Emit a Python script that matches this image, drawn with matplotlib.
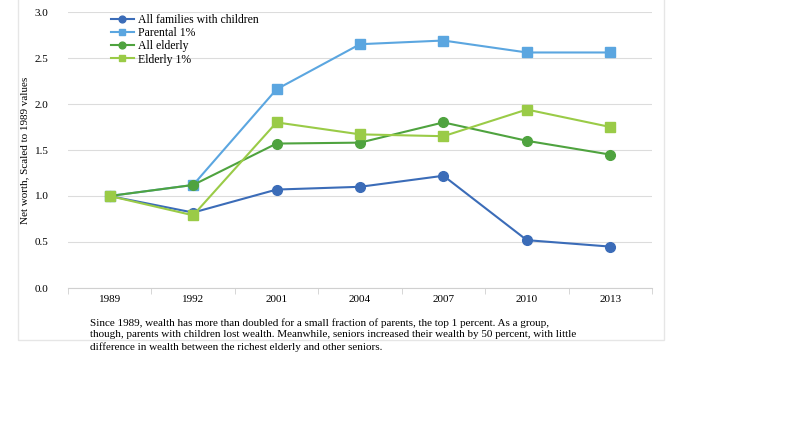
import matplotlib
matplotlib.use("Agg")
import matplotlib.pyplot as plt
from matplotlib.patches import Rectangle

years = ["1989", "1992", "2001", "2004", "2007", "2010", "2013"]
all_families = [1.0, 0.82, 1.07, 1.10, 1.22, 0.52, 0.45]
parental_1 = [1.0, 1.12, 2.16, 2.65, 2.69, 2.56, 2.56]
all_elderly = [1.0, 1.12, 1.57, 1.58, 1.80, 1.60, 1.45]
elderly_1 = [1.0, 0.79, 1.80, 1.67, 1.65, 1.94, 1.75]

plt.rcParams['font.family'] = ['Liberation Serif', 'DejaVu Serif']
fig = plt.figure(figsize=(8, 4.45), dpi=100)
fig.patches.append(Rectangle((18/800, 1-340/445), (664-18)/800, 340/445+0.1,
                             transform=fig.transFigure, fill=False, ec='#e6e6e6', lw=1))
ax = fig.add_axes([68/800, 1-288/445, (652-68)/800, (288-12)/445])
x = list(range(len(years)))
ax.plot(x, all_families, '-o', color='#3b6cb8', ms=7, lw=1.5, label='All families with children')
ax.plot(x, parental_1, '-s', color='#5ba6e0', ms=7, lw=1.5, label='Parental 1%')
ax.plot(x, all_elderly, '-o', color='#4fa33f', ms=7, lw=1.5, label='All elderly')
ax.plot(x, elderly_1, '-s', color='#9acb47', ms=7, lw=1.5, label='Elderly 1%')
ax.set_xlim(-0.5, 6.5)
ax.set_ylim(0, 3.0)
ax.set_yticks([0, 0.5, 1.0, 1.5, 2.0, 2.5, 3.0])
ax.set_yticklabels(["0.0", "0.5", "1.0", "1.5", "2.0", "2.5", "3.0"])
ax.set_xticks(x)
ax.set_xticklabels(years)
ax.set_xticks([i + 0.5 for i in range(-1, 7)], minor=True)
ax.tick_params(axis='x', which='major', length=0, pad=5, labelsize=8)
ax.tick_params(axis='x', which='minor', length=4, color='#d0d0d0')
ax.tick_params(axis='y', length=0, labelsize=8, pad=14)
ax.grid(axis='y', color='#dcdcdc', lw=0.8)
for s in ['top', 'right', 'left']:
    ax.spines[s].set_visible(False)
ax.spines['bottom'].set_color('#d0d0d0')
ax.set_ylabel('Net worth, Scaled to 1989 values', fontsize=8)
ax.legend(loc='upper left', bbox_to_anchor=(0.065, 1.01), frameon=False, fontsize=8.5,
          handlelength=2, labelspacing=0.1, borderaxespad=0, handletextpad=0.3, markerscale=0.7)
fig.text(90/800, 1-335/445,
         "Since 1989, wealth has more than doubled for a small fraction of parents, the top 1 percent. As a group,\n"
         "though, parents with children lost wealth. Meanwhile, seniors increased their wealth by 50 percent, with little\n"
         "difference in wealth between the richest elderly and other seniors.",
         fontsize=8, va='center', ha='left', linespacing=1.35)
fig.savefig('out.png', dpi=100)
